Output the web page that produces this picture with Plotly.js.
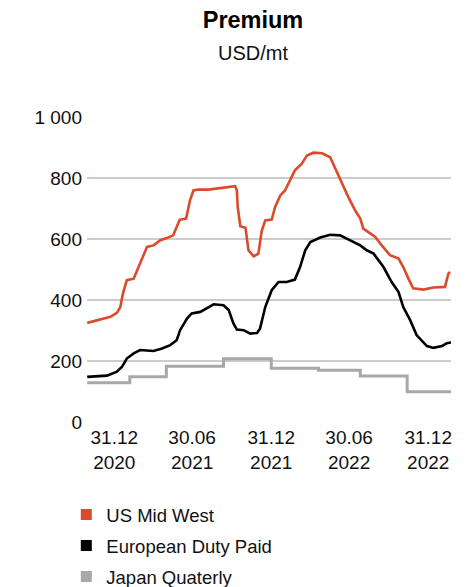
<!DOCTYPE html>
<html>
<head>
<meta charset="utf-8">
<script src="https://cdn.plot.ly/plotly-3.0.1.min.js"></script>
<style>html,body{margin:0;padding:0;background:#fff;}#chart{width:476px;height:587px;}</style>
</head>
<body>
<div id="chart"></div>
<script>
// US Mid West premium (USD/mt)
const usDates = ['2020-10-29','2020-11-29','2020-12-22','2021-01-06','2021-01-14','2021-01-20','2021-01-29','2021-02-14','2021-02-25','2021-03-09','2021-03-17','2021-04-01','2021-04-17','2021-05-02','2021-05-17','2021-05-25','2021-06-01','2021-06-16','2021-06-25','2021-07-03','2021-07-15','2021-08-07','2021-09-07','2021-10-08','2021-10-12','2021-10-14','2021-10-20','2021-11-01','2021-11-08','2021-11-20','2021-12-01','2021-12-09','2021-12-17','2022-01-01','2022-01-09','2022-01-21','2022-02-01','2022-02-13','2022-02-24','2022-03-12','2022-03-24','2022-04-08','2022-04-28','2022-05-17','2022-05-29','2022-06-13','2022-06-28','2022-07-14','2022-07-26','2022-08-02','2022-08-18','2022-08-30','2022-09-14','2022-10-03','2022-10-23','2022-11-03','2022-11-15','2022-11-26','2022-12-20','2023-01-12','2023-02-08','2023-02-16','2023-02-20'];
const usValues = [325,336,345,358,377,421,465,470,508,547,574,579,596,603,612,639,663,667,727,759,762,762,767,773,759,705,642,637,563,543,552,628,661,664,705,743,759,792,825,847,874,883,881,868,830,781,738,694,667,634,618,607,579,547,536,508,470,438,434,441,443,487,492];

// European Duty Paid premium (USD/mt)
const euDates = ['2020-10-29','2020-12-14','2021-01-06','2021-01-18','2021-01-29','2021-02-14','2021-03-01','2021-04-01','2021-04-21','2021-05-10','2021-05-25','2021-06-02','2021-06-18','2021-06-29','2021-07-19','2021-08-03','2021-08-19','2021-09-11','2021-09-23','2021-10-04','2021-10-12','2021-10-28','2021-11-12','2021-11-28','2021-12-05','2021-12-17','2022-01-01','2022-01-17','2022-02-05','2022-02-24','2022-03-08','2022-03-20','2022-04-01','2022-04-24','2022-05-17','2022-06-09','2022-07-02','2022-07-26','2022-08-10','2022-08-26','2022-09-18','2022-10-07','2022-10-23','2022-11-03','2022-11-19','2022-12-04','2022-12-28','2023-01-12','2023-02-01','2023-02-12','2023-02-24'];
const euValues = [148,152,165,181,208,225,236,233,241,252,268,301,339,356,361,372,386,383,367,323,303,301,290,292,307,377,432,459,459,467,508,563,590,605,614,612,596,579,563,552,508,459,426,377,334,285,249,243,249,258,261];

// Japan quarterly premium (USD/mt)
const jpDates = ['2020-10-29','2021-02-05','2021-05-01','2021-09-11','2021-12-31','2022-04-20','2022-07-26','2022-11-12','2023-02-24'];
const jpValues = [129,148,183,207,176,170,151,99,99];

const seriesNames = ['US Mid West','European Duty Paid','Japan Quaterly'];
const seriesColors = ['#db4a2b','#000000','#a8a8aa'];

const xTickVals = ['2020-12-31','2021-06-30','2021-12-31','2022-06-30','2022-12-31'];
const xTickText = ['31.12<br>2020','30.06<br>2021','31.12<br>2021','30.06<br>2022','31.12<br>2022'];
const yTickVals = [0,200,400,600,800,1000];
const yTickText = ['0','200','400','600','800','1 000'];

const lineData = [[usDates,usValues,'linear'],[euDates,euValues,'linear'],[jpDates,jpValues,'hv']];
const traces = [];
// draw Japan first (bottom), then Europe, then US
[2,1,0].forEach(i => {
  traces.push({
    type:'scatter', mode:'lines', x: lineData[i][0], y: lineData[i][1],
    name: seriesNames[i], showlegend:false, hoverinfo:'skip',
    line:{color: seriesColors[i], width: i===2 ? 3 : 2.6, shape: lineData[i][2]}
  });
});
// legend entries with square markers
[0,1,2].forEach(i => {
  traces.push({
    type:'scatter', mode:'markers', x:[null], y:[null], name: seriesNames[i],
    legendgroup:'g'+i, showlegend:true,
    marker:{symbol:'square', size:11, color: seriesColors[i]}
  });
});

const W = 476, H = 587;
const L = 86.7, R = 450.7, T = 116.5, B = 422;
const layout = {
  width: W, height: H,
  margin:{l:L, r:W-R, t:T, b:H-B, pad:0, autoexpand:false},
  paper_bgcolor:'#ffffff', plot_bgcolor:'#ffffff',
  font:{family:'"Liberation Sans", Arial, sans-serif', size:19, color:'#111111'},
  showlegend:true,
  title:{text:'<b>Premium</b>', font:{size:23.5, color:'#000000'}, xref:'container', x:253/W, xanchor:'center', yref:'container', y:1-20/H, yanchor:'middle'},
  annotations:[{text:'USD/mt', xref:'paper', yref:'paper', x:(253-L)/(R-L), y:(B-52)/(B-T), xanchor:'center', yanchor:'middle', showarrow:false, font:{size:20, color:'#111111'}}],
  xaxis:{type:'date', range:['2020-10-28 12:00','2023-02-22'], tickvals:xTickVals, ticktext:xTickText, showgrid:false, zeroline:false, showline:false, ticks:'', tickfont:{size:19}, ticklabelstandoff:2, fixedrange:true},
  yaxis:{range:[0,1000], tickvals:yTickVals, ticktext:yTickText, showgrid:true, gridcolor:'#cccccc', gridwidth:1.3, zeroline:false, showline:false, ticks:'', ticklabelstandoff:4, tickfont:{size:19}, fixedrange:true},
  legend:{orientation:'v', x:(66-L)/(R-L), xanchor:'left', y:(B-496)/(B-T), yanchor:'top', font:{size:18.5, color:'#111111'}, tracegroupgap:4, bgcolor:'rgba(0,0,0,0)', borderwidth:0, maxheight:300, itemclick:false}
};
Plotly.newPlot('chart', traces, layout, {displayModeBar:false, staticPlot:true});
</script>
</body>
</html>
